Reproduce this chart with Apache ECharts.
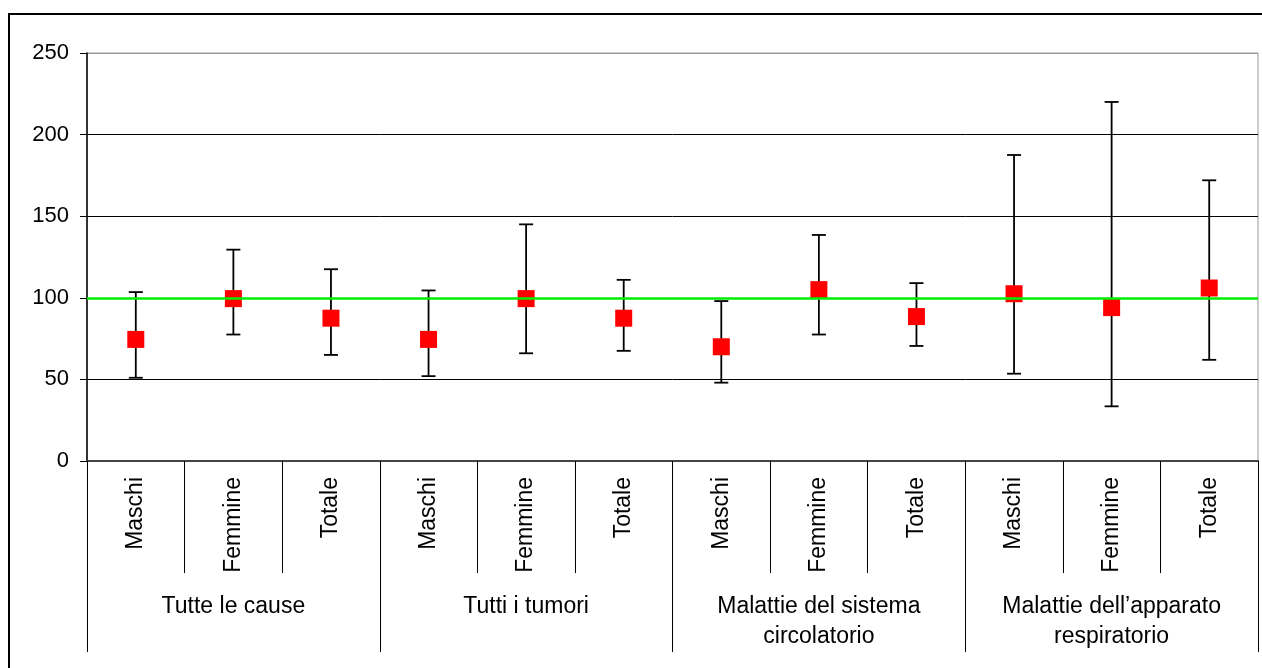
<!DOCTYPE html>
<html>
<head>
<meta charset="utf-8">
<script src="https://cdn.jsdelivr.net/npm/echarts@6/dist/echarts.min.js"></script>
<style>
  html, body { margin: 0; padding: 0; background: #fff; }
  #main { width: 1262px; height: 668px; }
</style>
</head>
<body>
<div id="main"></div>
<script>
// categorie (due livelli)
const sexes = ['Maschi', 'Femmine', 'Totale', 'Maschi', 'Femmine', 'Totale',
  'Maschi', 'Femmine', 'Totale', 'Maschi', 'Femmine', 'Totale']
const groups = ['Tutte le cause', 'Tutti i tumori',
  'Malattie del sistema\ncircolatorio', 'Malattie dell\u2019apparato\nrespiratorio']
// SMR e intervalli di confidenza
const smr = [74.5, 99.5, 87.5, 74.5, 99.5, 87.5, 70, 105, 88.5, 102.5, 94, 106]
const lower = [51, 77.5, 65, 52, 66, 67.5, 48, 77.5, 70.5, 53.5, 33.5, 62]
const upper = [103.5, 129.5, 117.5, 104.5, 145, 111, 98, 138.5, 109, 187.5, 220, 172]
const yTicks = [0, 50, 100, 150, 200, 250]
const reference = 100

const font = 'Liberation Sans, Arial, sans-serif'
const chart = echarts.init(document.getElementById('main'))

const errData = sexes.map((s, i) => [i, lower[i], upper[i]])

const option = {
  animation: false,
  graphic: [{
    type: 'rect',
    shape: { x: 9, y: 14, width: 1270, height: 700 },
    style: { fill: 'none', stroke: '#000', lineWidth: 2 },
    silent: true
  }],
  grid: {
    left: 87, right: 4, top: 53, bottom: 207,
    show: true, borderColor: '#999', borderWidth: 1
  },
  xAxis: [
    {
      type: 'category',
      data: sexes,
      position: 'bottom',
      axisLine: { show: true, lineStyle: { color: '#444', width: 2 } },
      axisTick: {
        show: true, interval: 0, alignWithLabel: false, length: 112,
        lineStyle: { color: '#000', width: 1 }
      },
      axisLabel: {
        rotate: 90, margin: 16, fontSize: 23, fontFamily: font, color: '#000',
        interval: 0
      }
    },
    {
      type: 'category',
      data: groups,
      position: 'bottom',
      axisLine: { show: false },
      axisTick: {
        show: true, interval: 0, alignWithLabel: false, length: 191,
        lineStyle: { color: '#000', width: 1 }
      },
      axisLabel: {
        margin: 131, fontSize: 23, lineHeight: 30, fontFamily: font,
        color: '#000', interval: 0
      }
    }
  ],
  yAxis: {
    type: 'value',
    min: yTicks[0],
    max: yTicks[yTicks.length - 1],
    interval: 50,
    axisLine: { show: true, lineStyle: { color: '#000', width: 1.5 } },
    axisTick: { show: true, length: 7, lineStyle: { color: '#000' } },
    axisLabel: { margin: 18, fontSize: 22, fontFamily: font, color: '#000' },
    splitLine: {
      lineStyle: { color: ['#444', '#000', '#000', '#000', '#000', '#999'], width: 1 }
    }
  },
  series: [
    {
      name: 'IC',
      type: 'custom',
      data: errData,
      z: 2,
      renderItem: function (params, api) {
        const x = api.value(0)
        const lo = api.coord([x, api.value(1)])
        const hi = api.coord([x, api.value(2)])
        const cap = 7
        const style = { stroke: '#000', lineWidth: 1.8 }
        return {
          type: 'group',
          children: [
            { type: 'line', shape: { x1: lo[0], y1: lo[1], x2: hi[0], y2: hi[1] }, style: style },
            { type: 'line', shape: { x1: hi[0] - cap, y1: hi[1], x2: hi[0] + cap, y2: hi[1] }, style: style },
            { type: 'line', shape: { x1: lo[0] - cap, y1: lo[1], x2: lo[0] + cap, y2: lo[1] }, style: style }
          ]
        }
      }
    },
    {
      name: 'SMR',
      type: 'scatter',
      data: smr,
      symbol: 'rect',
      symbolSize: 17,
      itemStyle: { color: '#ff0000', opacity: 1 },
      z: 3
    },
    {
      name: 'Riferimento',
      type: 'line',
      data: [],
      z: 5,
      markLine: {
        silent: true,
        symbol: 'none',
        label: { show: false },
        lineStyle: { color: '#00ee00', width: 2.5, type: 'solid' },
        data: [{ yAxis: reference }]
      }
    }
  ]
}

chart.setOption(option)
</script>
</body>
</html>
